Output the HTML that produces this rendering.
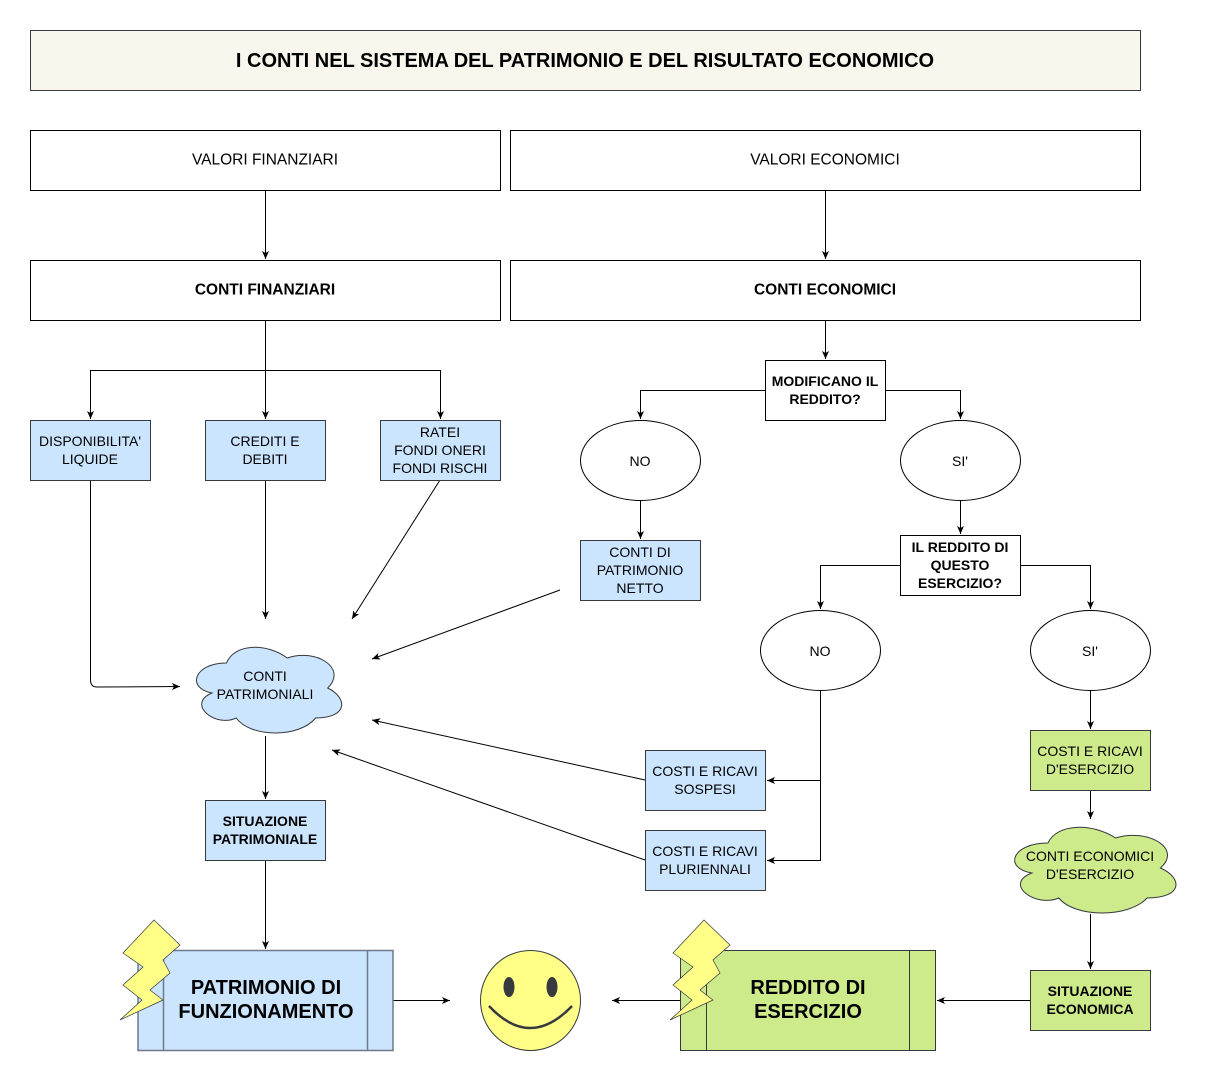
<!DOCTYPE html>
<html><head><meta charset="utf-8"><style>
html,body{margin:0;padding:0;background:#fff;}
svg{display:block;}
text{font-family:"Liberation Sans",Arial,sans-serif;fill:#000;text-anchor:middle;dominant-baseline:central;}
.n{font-size:14px;}
.b{font-size:14px;font-weight:bold;}
.l{stroke:#000;stroke-width:1;fill:none;}
.bl{fill:#cce5ff;stroke:#36393d;stroke-width:1;}
.gr{fill:#cdeb8b;stroke:#36393d;stroke-width:1;}
.w{fill:#fff;stroke:#000;stroke-width:1;}
</style></head><body>
<svg width="1216" height="1081" viewBox="0 0 1216 1081" xmlns="http://www.w3.org/2000/svg">
<defs>
<marker id="a" markerWidth="10" markerHeight="8" refX="8" refY="3.5" orient="auto" markerUnits="userSpaceOnUse">
<path d="M0,0 L8,3.5 L0,7 L2,3.5 z" fill="#000"/></marker>
</defs>

<rect x="30.5" y="30.5" width="1110" height="60" fill="#f9f7ed" stroke="#36393d"/>
<text x="585" y="61" style="font-size:20px;font-weight:bold">I CONTI NEL SISTEMA DEL PATRIMONIO E DEL RISULTATO ECONOMICO</text>

<rect class="w" x="30.5" y="130.5" width="470" height="60"/><text class="n" x="265" y="160" style="font-size:15.5px">VALORI FINANZIARI</text>
<rect class="w" x="510.5" y="130.5" width="630" height="60"/><text class="n" x="825" y="160" style="font-size:15.5px">VALORI ECONOMICI</text>
<rect class="w" x="30.5" y="260.5" width="470" height="60"/><text class="b" x="265" y="290" style="font-size:15.5px">CONTI FINANZIARI</text>
<rect class="w" x="510.5" y="260.5" width="630" height="60"/><text class="b" x="825" y="290" style="font-size:15.5px">CONTI ECONOMICI</text>

<g class="l">
<path d="M265.5,190 V259" marker-end="url(#a)"/>
<path d="M825.5,190 V259" marker-end="url(#a)"/>
<path d="M265.5,320 V419" marker-end="url(#a)"/>
<path d="M265.5,370.5 H90.5 V419" marker-end="url(#a)"/>
<path d="M265.5,370.5 H440.5 V419" marker-end="url(#a)"/>
<path d="M90.5,480 V680 Q90.5,687 97,687 L180,686.5" marker-end="url(#a)"/>
<path d="M265.5,480 V619" marker-end="url(#a)"/>
<path d="M440,480 L352,619" marker-end="url(#a)"/>
<path d="M825.5,320 V359" marker-end="url(#a)"/>
<path d="M765,390.5 H640.5 V419" marker-end="url(#a)"/>
<path d="M885,390.5 H960.5 V419" marker-end="url(#a)"/>
<path d="M640.5,500 V539" marker-end="url(#a)"/>
<path d="M560,590 L372,659" marker-end="url(#a)"/>
<path d="M960.5,500 V534" marker-end="url(#a)"/>
<path d="M900,565.5 H820.5 V609" marker-end="url(#a)"/>
<path d="M1020,565.5 H1090.5 V609" marker-end="url(#a)"/>
<path d="M820.5,690 V860.5 H767" marker-end="url(#a)"/>
<path d="M820.5,780.5 H767" marker-end="url(#a)"/>
<path d="M645,780 L372,720" marker-end="url(#a)"/>
<path d="M645,860 L332,750" marker-end="url(#a)"/>
<path d="M1090.5,690 V729" marker-end="url(#a)"/>
<path d="M1090.5,790 V819" marker-end="url(#a)"/>
<path d="M1090.5,914 V969" marker-end="url(#a)"/>
<path d="M1030,1000.5 H937" marker-end="url(#a)"/>
<path d="M680,1000.5 H612" marker-end="url(#a)"/>
<path d="M265.5,736 V799" marker-end="url(#a)"/>
<path d="M265.5,860 V949" marker-end="url(#a)"/>
<path d="M393,1000.5 H450" marker-end="url(#a)"/>
</g>

<rect class="bl" x="30.5" y="420.5" width="120" height="60"/><text class="n" x="90" y="441">DISPONIBILITA'</text><text class="n" x="90" y="459">LIQUIDE</text>
<rect class="bl" x="205.5" y="420.5" width="120" height="60"/><text class="n" x="265" y="441">CREDITI E</text><text class="n" x="265" y="459">DEBITI</text>
<rect class="bl" x="380.5" y="420.5" width="120" height="60"/><text class="n" x="440" y="432">RATEI</text><text class="n" x="440" y="450">FONDI ONERI</text><text class="n" x="440" y="468">FONDI RISCHI</text>

<rect class="w" x="765.5" y="360.5" width="120" height="60"/><text class="b" x="825" y="381">MODIFICANO IL</text><text class="b" x="825" y="399">REDDITO?</text>
<ellipse class="w" cx="640.5" cy="460.5" rx="60" ry="40"/><text class="n" x="640" y="461">NO</text>
<ellipse class="w" cx="960.5" cy="460.5" rx="60" ry="40"/><text class="n" x="960" y="461">SI'</text>
<rect class="bl" x="580.5" y="540.5" width="120" height="60"/><text class="n" x="640" y="552">CONTI DI</text><text class="n" x="640" y="570">PATRIMONIO</text><text class="n" x="640" y="588">NETTO</text>
<rect class="w" x="900.5" y="535.5" width="120" height="60"/><text class="b" x="960" y="547">IL REDDITO DI</text><text class="b" x="960" y="565">QUESTO</text><text class="b" x="960" y="583">ESERCIZIO?</text>
<ellipse class="w" cx="820.5" cy="650.5" rx="60" ry="40"/><text class="n" x="820" y="651">NO</text>
<ellipse class="w" cx="1090.5" cy="650.5" rx="60" ry="40"/><text class="n" x="1090" y="651">SI'</text>

<rect class="bl" x="645.5" y="750.5" width="120" height="60"/><text class="n" x="705" y="771">COSTI E RICAVI</text><text class="n" x="705" y="789">SOSPESI</text>
<rect class="bl" x="645.5" y="830.5" width="120" height="60"/><text class="n" x="705" y="851">COSTI E RICAVI</text><text class="n" x="705" y="869">PLURIENNALI</text>
<rect class="gr" x="1030.5" y="730.5" width="120" height="60"/><text class="n" x="1090" y="751">COSTI E RICAVI</text><text class="n" x="1090" y="769">D'ESERCIZIO</text>

<path d="M226.5,663 C194.1,663 186,688 211.9,693 C186,704 215.2,728 236.2,718 C250.8,738 299.4,738 315.6,718 C348,718 348,698 327.75,688 C348,668 315.6,648 287.25,658 C267,643 234.6,643 226.5,663 Z" fill="#cce5ff" stroke="#36393d" stroke-width="1"/>
<text class="n" x="265" y="676">CONTI</text><text class="n" x="265" y="694">PATRIMONIALI</text>
<path d="M1048,843 C1012,843 1003,868 1031.8,873 C1003,884 1035.4,908 1058.8,898 C1075,918 1129,918 1147,898 C1183,898 1183,878 1160.5,868 C1183,848 1147,828 1115.5,838 C1093,823 1057,823 1048,843 Z" fill="#cdeb8b" stroke="#36393d" stroke-width="1"/>
<text class="n" x="1090" y="856">CONTI ECONOMICI</text><text class="n" x="1090" y="874">D'ESERCIZIO</text>

<rect class="bl" x="205.5" y="800.5" width="120" height="60"/><text class="b" x="265" y="821">SITUAZIONE</text><text class="b" x="265" y="839">PATRIMONIALE</text>
<rect class="gr" x="1030.5" y="970.5" width="120" height="60"/><text class="b" x="1090" y="991">SITUAZIONE</text><text class="b" x="1090" y="1009">ECONOMICA</text>

<rect x="138" y="950.5" width="255" height="100" fill="#cce5ff" stroke="#6c7a89" stroke-width="1.5"/>
<path d="M163.5,950.5 V1050.5 M367.5,950.5 V1050.5" stroke="#6c7a89" stroke-width="1.5"/>
<text x="266" y="988" style="font-size:20px;font-weight:bold">PATRIMONIO DI</text>
<text x="266" y="1012" style="font-size:20px;font-weight:bold">FUNZIONAMENTO</text>
<polygon points="154,920 180,945 163,960 170,973 150,990 163,1000 120,1020 142,1000 123,985 143,967 123,953" fill="#ffff88" stroke="#36393d" stroke-width="0.7"/>

<rect x="680.5" y="950.5" width="255" height="100" fill="#cdeb8b" stroke="#36393d" stroke-width="1"/>
<path d="M706.5,950.5 V1050.5 M909.5,950.5 V1050.5" stroke="#36393d"/>
<text x="808" y="988" style="font-size:20px;font-weight:bold">REDDITO DI</text>
<text x="808" y="1012" style="font-size:20px;font-weight:bold">ESERCIZIO</text>
<polygon points="704,920 730,945 713,960 720,973 700,990 713,1000 670,1020 692,1000 673,985 693,967 673,953" fill="#ffff88" stroke="#36393d" stroke-width="0.7"/>

<circle cx="530.5" cy="1000.5" r="50" fill="#ffff88" stroke="#36393d" stroke-width="1"/>
<ellipse cx="509" cy="987" rx="5.5" ry="10" fill="#36393d"/>
<ellipse cx="552" cy="987" rx="5.5" ry="10" fill="#36393d"/>
<path d="M489,1006 Q530,1050 572,1006" fill="none" stroke="#36393d" stroke-width="2.5"/>
</svg>
</body></html>
